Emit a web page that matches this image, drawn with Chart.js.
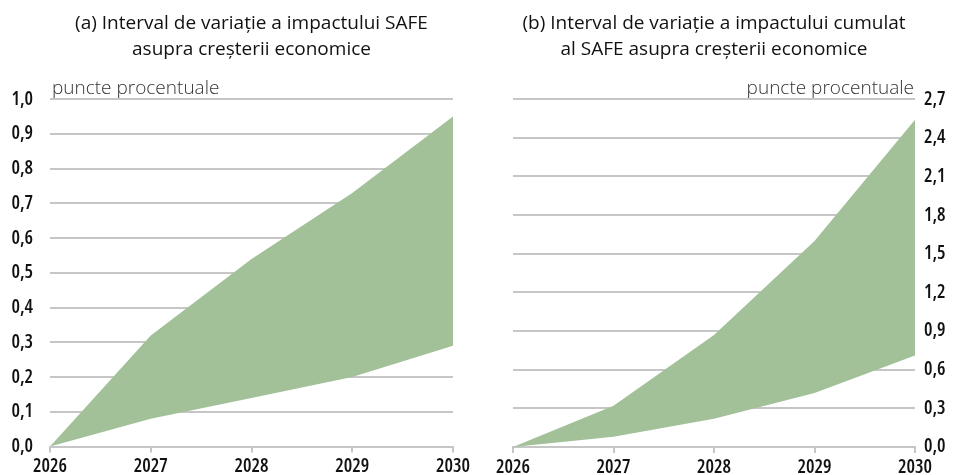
<!DOCTYPE html>
<html>
<head>
<meta charset="utf-8">
<script src="https://cdn.jsdelivr.net/npm/chart.js@4.4.1/dist/chart.umd.min.js"></script>
<style>
html,body{margin:0;padding:0;background:#fff;width:958px;height:475px;overflow:hidden;}
#c1{position:absolute;left:0;top:0;}
#c2{position:absolute;left:480px;top:0;}
</style>
</head>
<body>
<canvas id="c1" width="480" height="475"></canvas>
<canvas id="c2" width="478" height="475"></canvas>
<script>
// ---- data ----
const years = ['2026', '2027', '2028', '2029', '2030'];
const annualLow = [0, 0.08, 0.14, 0.20, 0.29];
const annualHigh = [0, 0.32, 0.54, 0.73, 0.95];
const cumulativeLow = [0, 0.08, 0.22, 0.42, 0.71];
const cumulativeHigh = [0, 0.32, 0.87, 1.60, 2.54];
const titleA = ['(a) Interval de variație a impactului SAFE', 'asupra creșterii economice'];
const titleB = ['(b) Interval de variație a impactului cumulat', 'al SAFE asupra creșterii economice'];
const unitLabel = 'puncte procentuale';

const FILL = '#a2c199';
const GRID = '#c6c6c6';
const TICKFONT = {family: '"Open Sans", "DejaVu Sans Condensed", sans-serif', size: 19, weight: '600 condensed'};
const TITLEFONT = {family: '"Open Sans", "Noto Sans", sans-serif', size: 19, weight: 'normal', lineHeight: 1.4};

const fmt = v => (Math.round(v * 10) / 10).toFixed(1).replace('.', ',');

const unitPlugin = {
  id: 'unitLabel',
  afterDraw(chart, args, opts) {
    const ctx = chart.ctx, a = chart.chartArea;
    ctx.save();
    ctx.font = '300 19px "Open Sans", "Noto Sans", sans-serif';
    ctx.fillStyle = '#333';
    ctx.textBaseline = 'alphabetic';
    if (opts.side === 'left') {
      ctx.textAlign = 'left';
      ctx.fillText(unitLabel, a.left + 2, a.top - 5);
    } else {
      ctx.textAlign = 'right';
      ctx.fillText(unitLabel, a.right - 1, a.top - 5);
    }
    ctx.restore();
  }
};

function makeChart(id, low, high, yMax, step, side, title, padL, padR, yWidth) {
  return new Chart(document.getElementById(id), {
    type: 'line',
    data: {
      labels: years,
      datasets: [
        {data: low, borderWidth: 0, pointRadius: 0, fill: false, borderColor: 'rgba(0,0,0,0)'},
        {data: high, borderWidth: 0, pointRadius: 0, fill: '-1', backgroundColor: FILL, borderColor: 'rgba(0,0,0,0)'}
      ]
    },
    options: {
      responsive: false,
      animation: false,
      layout: {padding: {left: padL, right: padR, top: 0, bottom: 0}},
      plugins: {
        legend: {display: false},
        tooltip: {enabled: false},
        title: {display: true, text: title, fullSize: false, color: '#111', font: TITLEFONT, padding: {top: 10, bottom: 36}},
        unitLabel: {side: side}
      },
      scales: {
        x: {
          offset: false,
          grid: {display: true, drawOnChartArea: false, drawTicks: true, tickLength: 6, color: GRID, lineWidth: 2},
          border: {display: true, color: GRID, width: 2},
          ticks: {color: '#111', font: TICKFONT, padding: 3, maxRotation: 0, autoSkip: false},
          afterFit: s => { s.height = 28; }
        },
        y: {
          position: side,
          min: 0, max: yMax,
          grid: {color: GRID, lineWidth: 2, drawTicks: false},
          border: {display: false},
          ticks: {stepSize: step, color: '#111', font: TICKFONT, padding: side === 'left' ? 17 : 9, callback: v => fmt(v)},
          afterFit: s => { s.width = yWidth; }
        }
      }
    },
    plugins: [unitPlugin]
  });
}

makeChart('c1', annualLow, annualHigh, 1.0, 0.1, 'left', titleA, 0, 27, 50);
makeChart('c2', cumulativeLow, cumulativeHigh, 2.7, 0.3, 'right', titleB, 33, 0, 43);
</script>
</body>
</html>
